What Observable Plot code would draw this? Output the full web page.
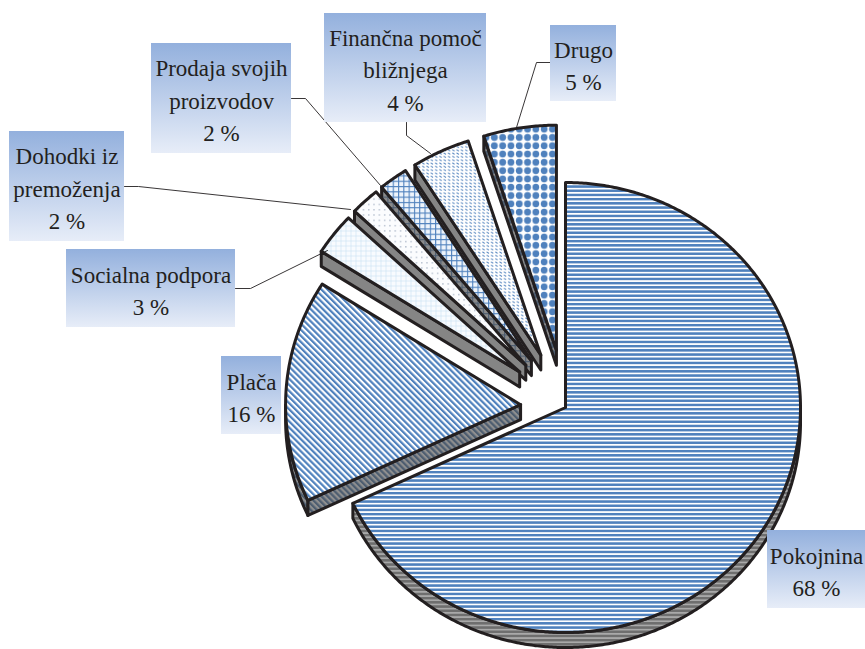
<!DOCTYPE html>
<html><head><meta charset="utf-8">
<script src="https://cdn.jsdelivr.net/npm/d3@7"></script>
<script src="https://cdn.jsdelivr.net/npm/@observablehq/plot@0.6"></script>
<style>body{margin:0;background:#fff}#chart{width:865px;height:649px}</style>
</head><body><div id="chart"></div>
<script>
// ---- data ----
const categories = ["Pokojnina", "Plača", "Socialna podpora", "Dohodki iz premoženja", "Prodaja svojih proizvodov", "Finančna pomoč bližnjega", "Drugo"];
const values = [68, 16, 3, 2, 2, 4, 5];
const labelLines = [["Pokojnina"], ["Plača"], ["Socialna podpora"], ["Dohodki iz", "premoženja"], ["Prodaja svojih", "proizvodov"], ["Finančna pomoč", "bližnjega"], ["Drugo"]];

// ---- layout / style ----
const W = 865, H = 649;
const CX = 565, CY = 407, RX = 235, RY = 225, DEPTH = 15;
const explode = [0, 45, 58, 58, 58, 58, 58];
const topFill = ["url(#pPok)", "url(#pPla)", "url(#pSoc)", "url(#pDoh)", "url(#pPro)", "url(#pFin)", "url(#pDru)"];
const sideFill = ["url(#sPok)", "url(#sPla)", "#858585", "#858585", "url(#sPro)", "#858585", "url(#sDru)"];
const drawOrder = [0, 6, 5, 4, 3, 2, 1];
const boxLayout = [
  [767, 530, 868, 608], [221, 356, 281, 434], [66, 249, 235, 327], [9, 131, 124, 241],
  [151, 43, 291, 153], [324, 13, 486, 122], [550, 25, 616, 101]
];
const leaderLayout = [
  null, null,
  [[235, 288], [250, 288], [327, 250]],
  [[124, 186], [138, 186], [350, 209]],
  [[291, 98], [305, 98], [380, 185]],
  [[406, 122], [406, 135], [430, 153]],
  [[550, 62], [536, 62], [516, 127]]
];

// ---- geometry from the values ----
const total = d3.sum(values);
let cum = 0;
const slices = values.map((v, i) => {
  const a0 = cum / total * 2 * Math.PI; cum += v;
  const a1 = cum / total * 2 * Math.PI;
  const mid = (a0 + a1) / 2;
  return {i, a0, a1, ax: CX + explode[i] * Math.sin(mid), ay: CY - explode[i] * Math.cos(mid)};
});
function P(s, a, dy = 0) { return [s.ax + RX * Math.sin(a), s.ay - RY * Math.cos(a) + dy]; }
function arc(s, lo, hi, dy = 0) {
  const n = Math.max(2, Math.ceil((hi - lo) / (Math.PI / 360)));
  return d3.range(n + 1).map(k => P(s, lo + (hi - lo) * k / n, dy));
}
const polys = [];
let pid = 0;
function addPoly(pts, fill) {
  const id = pid++;
  pts.concat([pts[0]]).forEach(([x, y]) => polys.push({id, x, y, fill}));
}
for (const i of drawOrder) {
  const s = slices[i];
  const A = [s.ax, s.ay], Ad = [s.ax, s.ay + DEPTH];
  const lo = Math.max(s.a0, Math.PI / 2), hi = Math.min(s.a1, 3 * Math.PI / 2);
  if (hi > lo) addPoly(arc(s, lo, hi).concat(arc(s, lo, hi, DEPTH).reverse()), sideFill[i]);
  if (Math.sin(s.a0) < -1e-6) addPoly([A, P(s, s.a0), P(s, s.a0, DEPTH), Ad], sideFill[i]);
  if (Math.sin(s.a1) > 1e-6) addPoly([A, P(s, s.a1), P(s, s.a1, DEPTH), Ad], sideFill[i]);
  addPoly([A].concat(arc(s, s.a0, s.a1)), topFill[i]);
}
const boxes = categories.map((c, i) => ({
  x1: boxLayout[i][0], y1: boxLayout[i][1], x2: boxLayout[i][2], y2: boxLayout[i][3],
  cx: (boxLayout[i][0] + Math.min(boxLayout[i][2], W)) / 2 + (i === 0 ? 0 : 0),
  cy: (boxLayout[i][1] + boxLayout[i][3]) / 2,
  text: labelLines[i].join("\n") + "\n" + values[i] + " %"
}));
const leaders = [];
leaderLayout.forEach((l, i) => { if (l) l.forEach(([x, y]) => leaders.push({id: i, x, y})); });

const plot = Plot.plot({
  width: W, height: H, margin: 0,
  x: {domain: [0, W], axis: null},
  y: {domain: [0, H], reverse: true, axis: null},
  color: {type: "identity"},
  style: {background: "#fff"},
  marks: [
    Plot.line(polys, {x: "x", y: "y", z: "id", fill: "fill", stroke: "#231f20", strokeWidth: 3, strokeLinejoin: "round", curve: "linear"}),
    Plot.line(leaders, {x: "x", y: "y", z: "id", stroke: "#231f20", strokeWidth: 0.9}),
    Plot.rect(boxes, {x1: "x1", x2: "x2", y1: "y1", y2: "y2", fill: "url(#labelGrad)"}),
    Plot.text(boxes, {x: "cx", y: "cy", text: "text", fontSize: 23, lineHeight: 1.41, fontFamily: "'Liberation Serif', 'Times New Roman', serif", fill: "#231f20"})
  ]
});

// ---- patterns ----
const defs = d3.select(plot).insert("defs", ":first-child");
const BLUE = "#4f81bd";
function pattern(id, w, h, draw, transform) {
  const p = defs.append("pattern").attr("id", id).attr("patternUnits", "userSpaceOnUse").attr("width", w).attr("height", h);
  if (transform) p.attr("patternTransform", transform);
  draw(p);
}
const rect = (p, x, y, w, h, f) => p.append("rect").attr("x", x).attr("y", y).attr("width", w).attr("height", h).attr("fill", f);
pattern("pPok", 10, 4.2, p => { rect(p, 0, 0, 10, 4.2, "#fff"); rect(p, 0, 0, 10, 2.5, BLUE); });
pattern("sPok", 10, 4.2, p => { rect(p, 0, 0, 10, 4.2, "#a9a9a9"); rect(p, 0, 0, 10, 2.5, "#6e6e6e"); });
pattern("pPla", 4.3, 10, p => { rect(p, 0, 0, 4.3, 10, "#fff"); rect(p, 0, 0, 2.2, 10, BLUE); }, "rotate(-45)");
pattern("sPla", 4.3, 10, p => { rect(p, 0, 0, 4.3, 10, "#8f8f8f"); rect(p, 0, 0, 2.2, 10, "#4d5d70"); }, "rotate(-45)");
pattern("pSoc", 5, 5, p => { rect(p, 0, 0, 5, 5, "#f8fbfe"); rect(p, 0, 0, 5, 0.7, "#cfe5f4"); rect(p, 0, 0, 0.7, 5, "#cfe5f4"); });
pattern("pDoh", 5.3, 5.3, p => { rect(p, 0, 0, 5.3, 5.3, "#fbfcfe"); rect(p, 2, 2, 1.1, 1.1, "#8494ad"); });
pattern("pPro", 5.3, 5.3, p => { rect(p, 0, 0, 5.3, 5.3, "#eef4fb"); rect(p, 0, 0, 5.3, 1.1, BLUE); rect(p, 0, 0, 1.1, 5.3, BLUE); });
pattern("sPro", 5.3, 5.3, p => { rect(p, 0, 0, 5.3, 5.3, "#8a8a8a"); rect(p, 0, 0, 5.3, 1.1, "#4d5d70"); rect(p, 0, 0, 1.1, 5.3, "#4d5d70"); });
pattern("pFin", 4.3, 3.3, p => { rect(p, 0, 0, 4.3, 3.3, "#fff"); p.append("path").attr("d", "M0.3,0.6L2.6,2.1").attr("stroke", BLUE).attr("stroke-width", 1); });
pattern("pDru", 8.3, 8.3, p => { rect(p, 0, 0, 8.3, 8.3, "#fff"); p.append("circle").attr("cx", 4.15).attr("cy", 4.15).attr("r", 3.4).attr("fill", BLUE); });
pattern("sDru", 8.3, 8.3, p => { rect(p, 0, 0, 8.3, 8.3, "#8a8a8a"); p.append("circle").attr("cx", 4.15).attr("cy", 4.15).attr("r", 3.2).attr("fill", "#4d5d70"); });
const g = defs.append("linearGradient").attr("id", "labelGrad").attr("x1", 0).attr("y1", 0).attr("x2", 0).attr("y2", 1);
g.append("stop").attr("offset", 0).attr("stop-color", "#93b0dd");
g.append("stop").attr("offset", 1).attr("stop-color", "#e7edf8");

document.getElementById("chart").appendChild(plot);
</script>
</body></html>
